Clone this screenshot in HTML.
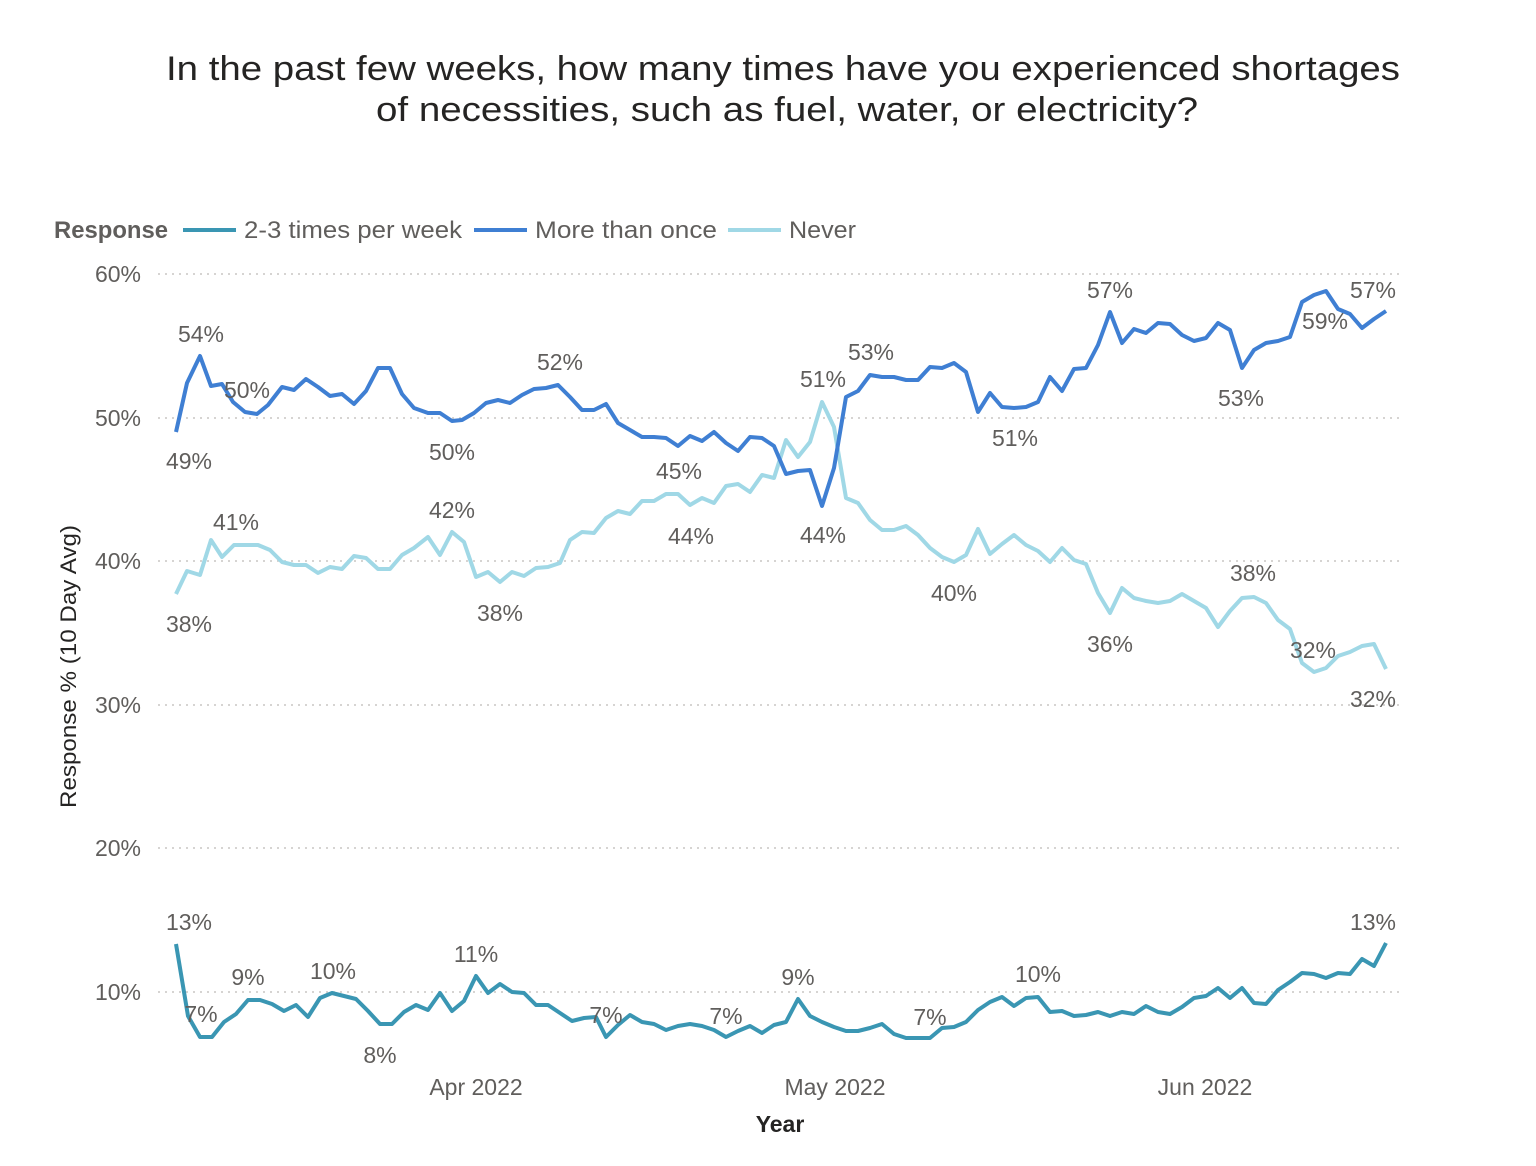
<!DOCTYPE html>
<html><head><meta charset="utf-8"><style>
body{margin:0;background:#fff;}
svg{display:block;font-family:"Liberation Sans",sans-serif;}
</style></head><body>
<svg width="1536" height="1166" viewBox="0 0 1536 1166">
<text x="166" y="80" font-size="34" fill="#252423" textLength="1234" lengthAdjust="spacingAndGlyphs">In the past few weeks, how many times have you experienced shortages</text>
<text x="376" y="121" font-size="34" fill="#252423" textLength="822" lengthAdjust="spacingAndGlyphs">of necessities, such as fuel, water, or electricity?</text>
<g font-size="24" fill="#605e5c">
<text x="54" y="238" font-weight="bold" fill="#605e5c" textLength="114" lengthAdjust="spacingAndGlyphs">Response</text>
<line x1="183" y1="230" x2="236" y2="230" stroke="#3a96b3" stroke-width="4"/><text x="244" y="238" textLength="218" lengthAdjust="spacingAndGlyphs">2-3 times per week</text>
<line x1="474" y1="230" x2="527" y2="230" stroke="#3f7fd3" stroke-width="4"/><text x="535" y="238" textLength="182" lengthAdjust="spacingAndGlyphs">More than once</text>
<line x1="728" y1="230" x2="781" y2="230" stroke="#a0d8e6" stroke-width="4"/><text x="789" y="238" textLength="67" lengthAdjust="spacingAndGlyphs">Never</text>
</g>
<g stroke="#c8c6c4" stroke-width="1.5" stroke-dasharray="2,5">
<line x1="158" y1="274" x2="1400" y2="274"/><line x1="158" y1="418" x2="1400" y2="418"/><line x1="158" y1="561" x2="1400" y2="561"/><line x1="158" y1="705" x2="1400" y2="705"/><line x1="158" y1="848" x2="1400" y2="848"/><line x1="158" y1="992" x2="1400" y2="992"/>
</g>
<g font-size="23" fill="#605e5c" text-anchor="end">
<text x="141" y="282">60%</text><text x="141" y="426">50%</text><text x="141" y="569">40%</text><text x="141" y="713">30%</text><text x="141" y="856">20%</text><text x="141" y="1000">10%</text>
</g>
<g font-size="23" fill="#605e5c" text-anchor="middle">
<text x="476" y="1095">Apr 2022</text><text x="835" y="1095">May 2022</text><text x="1205" y="1095">Jun 2022</text>
</g>
<text x="780" y="1132" text-anchor="middle" font-size="23" fill="#252423" font-weight="600">Year</text>
<text transform="translate(76,808) rotate(-90)" font-size="22" fill="#252423" textLength="283" lengthAdjust="spacingAndGlyphs">Response % (10 Day Avg)</text>
<g fill="none" stroke-width="4" stroke-linejoin="round">
<polyline stroke="#a0d8e6" points="176,594 187,571 200,575 211,540 222,557 234,545 246,545 258,545 270,550 282,562 294,565 306,565 318,573 330,567 342,569 354,556 366,558 378,569 390,569 402,555 414,548 428,537 440,555 452,532 464,542 476,577 488,572 500,582 512,572 524,576 536,568 548,567 560,563 570,540 582,532 594,533 606,518 618,511 630,514 642,501 654,501 666,494 678,494 690,505 702,498 714,503 726,486 738,484 750,492 762,475 774,478 786,440 798,457 810,442 822,402 834,427 846,498 858,503 870,520 882,530 894,530 906,526 918,535 930,548 942,557 954,562 966,555 978,529 990,554 1002,544 1014,535 1026,545 1038,551 1050,562 1062,548 1074,560 1086,564 1098,593 1110,613 1122,588 1134,598 1146,601 1158,603 1170,601 1182,594 1194,601 1206,608 1218,627 1230,611 1242,598 1254,597 1266,603 1278,620 1290,629 1302,663 1314,672 1326,668 1338,656 1350,652 1362,646 1374,644 1386,669"/>
<polyline stroke="#3f7fd3" points="176,432 187,383 200,356 211,386 222,384 233,402 245,412 257,414 268,405 282,387 294,390 306,379 318,387 330,396 342,394 354,404 366,391 378,368 390,368 402,394 414,408 428,413 440,413 452,421 462,420 474,413 486,403 498,400 510,403 522,395 534,389 546,388 558,385 570,397 582,410 594,410 606,404 618,423 630,430 642,437 654,437 666,438 678,446 690,436 702,441 714,432 726,443 738,451 750,437 762,438 774,446 786,474 798,471 810,470 822,506 834,468 846,397 858,391 870,375 882,377 894,377 906,380 918,380 930,367 942,368 954,363 966,372 978,412 990,393 1002,407 1014,408 1026,407 1038,402 1050,377 1062,391 1074,369 1086,368 1098,345 1110,312 1122,343 1134,329 1146,333 1158,323 1170,324 1182,335 1194,341 1206,338 1218,323 1230,330 1242,368 1254,350 1266,343 1278,341 1290,337 1302,302 1314,295 1326,291 1338,309 1350,314 1362,328 1374,319 1386,311"/>
<polyline stroke="#3a96b3" points="176,944 188,1016 200,1037 212,1037 224,1022 236,1014 248,1000 260,1000 272,1004 284,1011 296,1005 308,1017 320,998 332,993 344,996 356,999 368,1011 380,1024 392,1024 404,1012 416,1005 428,1010 440,993 452,1011 464,1001 476,976 488,993 500,984 512,992 524,993 536,1005 548,1005 560,1013 572,1021 584,1018 596,1017 606,1037 618,1025 630,1015 642,1022 654,1024 666,1030 678,1026 690,1024 702,1026 714,1030 726,1037 738,1031 750,1026 762,1033 774,1025 786,1022 798,999 810,1016 822,1022 834,1027 846,1031 858,1031 870,1028 882,1024 894,1034 906,1038 918,1038 930,1038 942,1028 954,1027 966,1022 978,1010 990,1002 1002,997 1014,1006 1026,998 1038,997 1050,1012 1062,1011 1074,1016 1086,1015 1098,1012 1110,1016 1122,1012 1134,1014 1146,1006 1158,1012 1170,1014 1182,1007 1194,998 1206,996 1218,988 1230,998 1242,988 1254,1003 1266,1004 1278,990 1290,982 1302,973 1314,974 1326,978 1338,973 1350,974 1362,959 1374,966 1386,943"/>
</g>
<g font-size="23" fill="#605e5c" text-anchor="middle">
<text x="201" y="342">54%</text><text x="247" y="398">50%</text><text x="189" y="469">49%</text><text x="452" y="460">50%</text><text x="560" y="370">52%</text><text x="823" y="387">51%</text><text x="871" y="360">53%</text><text x="823" y="543">44%</text><text x="1015" y="446">51%</text><text x="1110" y="298">57%</text><text x="1241" y="406">53%</text><text x="1325" y="329">59%</text><text x="1373" y="298">57%</text>
<text x="236" y="530">41%</text><text x="189" y="632">38%</text><text x="452" y="518">42%</text><text x="500" y="621">38%</text><text x="679" y="479">45%</text><text x="691" y="544">44%</text><text x="954" y="601">40%</text><text x="1110" y="652">36%</text><text x="1253" y="581">38%</text><text x="1313" y="658">32%</text><text x="1373" y="707">32%</text>
<text x="189" y="930">13%</text><text x="201" y="1022">7%</text><text x="248" y="985">9%</text><text x="333" y="979">10%</text><text x="380" y="1063">8%</text><text x="476" y="962">11%</text><text x="606" y="1023">7%</text><text x="726" y="1024">7%</text><text x="798" y="985">9%</text><text x="930" y="1025">7%</text><text x="1038" y="982">10%</text><text x="1373" y="930">13%</text>
</g>
</svg>
</body></html>
